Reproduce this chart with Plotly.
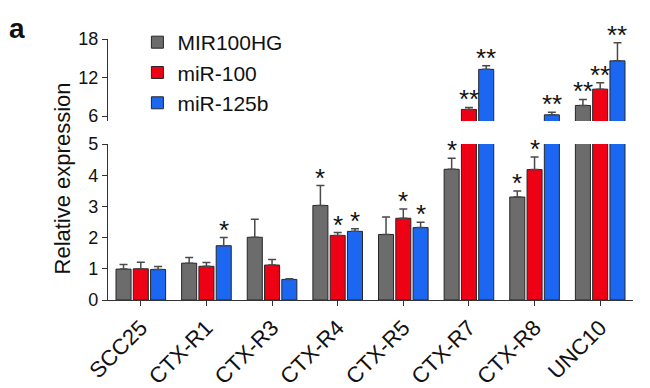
import plotly.graph_objects as go

categories = ["SCC25", "CTX-R1", "CTX-R3", "CTX-R4", "CTX-R5", "CTX-R7", "CTX-R8", "UNC10"]
series_names = ["MIR100HG", "miR-100", "miR-125b"]
mir100hg = [0.99, 1.18, 2.01, 3.03, 2.10, 4.19, 3.30, 7.67]
mir100hg_err = [0.15, 0.18, 0.58, 0.64, 0.56, 0.35, 0.19, 0.93]
mir100 = [1.00, 1.08, 1.12, 2.07, 2.62, 7.05, 4.18, 10.2]
mir100_err = [0.21, 0.12, 0.18, 0.09, 0.30, 0.31, 0.40, 1.0]
mir125b = [0.98, 1.74, 0.66, 2.20, 2.32, 13.28, 6.21, 14.6]
mir125b_err = [0.09, 0.26, 0.02, 0.08, 0.17, 0.56, 0.42, 2.8]
sig_hg = ["", "", "", "*", "", "*", "*", "**"]
sig_100 = ["", "", "", "*", "*", "**", "*", "**"]
sig_125b = ["", "*", "", "*", "*", "**", "**", "**"]
lower_ticks = [0, 1, 2, 3, 4, 5]
upper_ticks = [6, 12, 18]

colors = ["#6c6c6c", "#ee0015", "#1c67f2"]
values = [mir100hg, mir100, mir125b]
errors = [mir100hg_err, mir100_err, mir125b_err]
sigs = [sig_hg, sig_100, sig_125b]

FONT = "Arial, Liberation Sans, sans-serif"
BREAK_LOW = 5
fig = go.Figure()

for k in range(3):
    for xa, ya, show in (("x", "y", True), ("x2", "y2", False)):
        fig.add_trace(go.Bar(
            x=categories, y=values[k], name=series_names[k],
            xaxis=xa, yaxis=ya, showlegend=show, offsetgroup=str(k),
            marker=dict(color=colors[k], line=dict(color="#262626", width=1)),
            error_y=dict(type="data", array=errors[k], arrayminus=[0] * len(categories),
                         symmetric=False, color="#4a4a4a", thickness=1.5, width=4),
        ))

group_w = 0.79
step = group_w / 3
for k in range(3):
    for i, s in enumerate(sigs[k]):
        if not s:
            continue
        top = values[k][i] + errors[k][i]
        yref = "y" if top <= BREAK_LOW else "y2"
        fig.add_annotation(
            x=i + (k - 1) * step, y=top, xref="x", yref=yref,
            text=s, showarrow=False, xanchor="center", yanchor="bottom", yshift=-9,
            font=dict(size=26, color="#111", family=FONT),
        )

fig.add_annotation(x=-0.086, y=0.465, xref="paper", yref="paper",
                   xanchor="center", yanchor="middle",
                   text="Relative expression", textangle=-90, showarrow=False,
                   font=dict(size=22, color="#111", family=FONT))
fig.add_annotation(x=-0.173, y=1.042, xref="paper", yref="paper",
                   xanchor="center", yanchor="middle",
                   text="<b>a</b>", showarrow=False,
                   font=dict(size=28, color="#111", family=FONT))

axis_common = dict(showgrid=False, zeroline=False, showline=True, linecolor="#333",
                   linewidth=1.2, ticks="outside", ticklen=5, tickwidth=1.2,
                   tickcolor="#333", automargin=False,
                   tickfont=dict(size=18, color="#111", family=FONT))

fig.update_layout(
    width=642, height=380,
    margin=dict(l=100, r=17, t=31, b=88),
    paper_bgcolor="white", plot_bgcolor="white",
    barmode="group", bargap=1 - group_w, bargroupgap=0.13,
    font=dict(family=FONT, color="#111"),
    xaxis=dict(domain=[0, 1], anchor="y", range=[-0.5, 7.5], tickangle=-45,
               **axis_common),
    xaxis2=dict(domain=[0, 1], anchor="y2", matches="x", visible=False),
    yaxis=dict(domain=[0, 0.5977], range=[0, BREAK_LOW], tickvals=lower_ticks,
               anchor="x", **axis_common),
    yaxis2=dict(domain=[0.6858, 1], range=[5.25, 18], tickvals=upper_ticks,
                anchor="x2", **axis_common),
    legend=dict(x=0.056, y=1.065, xanchor="left", yanchor="top",
                font=dict(size=21, color="#111", family=FONT),
                bgcolor="rgba(0,0,0,0)", tracegroupgap=0),
)
fig.update_xaxes(tickfont=dict(size=22, color="#111", family=FONT), selector=dict(anchor="y"))

fig.write_html("out.html")
